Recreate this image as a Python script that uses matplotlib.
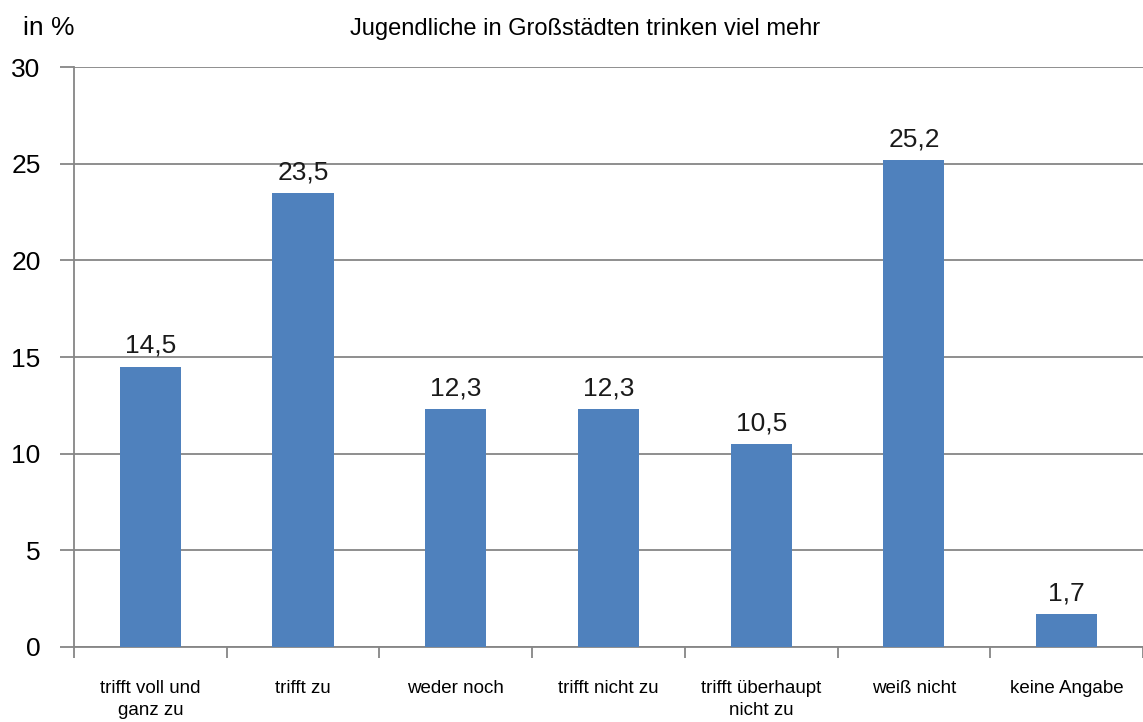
import matplotlib
matplotlib.use("Agg")
from matplotlib import pyplot as plt
import numpy as np

# Daten
kategorien = ["trifft voll und\nganz zu", "trifft zu", "weder noch", "trifft nicht zu",
              "trifft überhaupt\nnicht zu", "weiß nicht", "keine Angabe"]
werte = [14.5, 23.5, 12.3, 12.3, 10.5, 25.2, 1.7]
y_ticks = [0, 5, 10, 15, 20, 25, 30]

plt.rcParams['font.family'] = ['Liberation Sans Narrow', 'Liberation Sans', 'DejaVu Sans']

fig = plt.figure(figsize=(11.43, 7.22), dpi=100)
ax = fig.add_axes([0.0647, 0.1039, 0.9353, 0.8032])

grau = "#868686"
x = np.arange(len(werte))
ax.bar(x, werte, width=0.4, color="#4F81BD", zorder=3)

for xi, w in zip(x, werte):
    ax.text(xi, w + 0.45, f"{w:.1f}".replace(".", ","), ha="center", va="bottom",
            fontsize=19, color="#1a1a1a")

ax.set_xlim(-0.5, len(werte) - 0.5)
ax.set_ylim(0, 30)
ax.set_yticks(y_ticks)
ax.set_yticklabels([str(t) for t in y_ticks], fontsize=19)
ax.yaxis.grid(True, color=grau, linewidth=1.3, zorder=0)

# Kategorie-Beschriftungen in die Mitte, Striche an die Grenzen
ax.set_xticks(x)
ax.set_xticklabels(kategorien, fontsize=13.5, linespacing=1.35)
ax.tick_params(axis="x", length=0, pad=24)
ax.set_xticks(np.arange(-0.5, len(werte) + 0.5, 1), minor=True)
ax.tick_params(axis="x", which="minor", length=8, width=1.3, color=grau)
ax.tick_params(axis="y", length=10, width=1.3, color=grau, pad=14)

for s in ["top", "right"]:
    ax.spines[s].set_visible(False)
for s in ["left", "bottom"]:
    ax.spines[s].set_color(grau)
    ax.spines[s].set_linewidth(1.3)

fig.text(0.02, 0.945, "in %", fontsize=19, ha="left", va="bottom")
fig.text(0.512, 0.945, "Jugendliche in Großstädten trinken viel mehr", fontsize=17,
         ha="center", va="bottom")

fig.savefig("out.png", dpi=100)
